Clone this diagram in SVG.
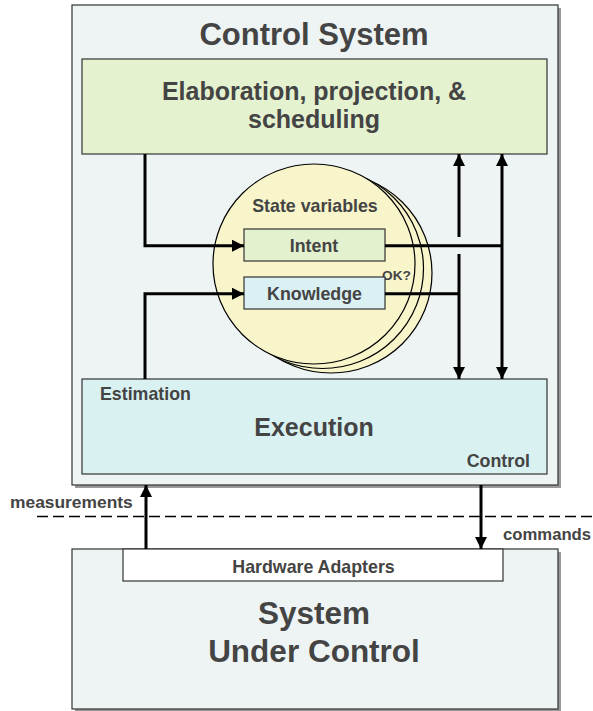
<svg xmlns="http://www.w3.org/2000/svg" width="593" height="711" viewBox="0 0 593 711">
<style>
text{font-family:"Liberation Sans",Arial,sans-serif;font-weight:bold;fill:#444;}
.c{text-anchor:middle;}
.box{stroke:#333;stroke-width:1.2;}
.shadow{fill:#9a9a9a;}
.conn{fill:none;stroke:#000;stroke-width:3;}
.circ{fill:#f8f5cb;stroke:#000;stroke-width:1.2;}
.s{font-size:17.8px;}
</style>
<defs>
<marker id="arr" viewBox="0 0 12 12" refX="12" refY="6" markerWidth="12" markerHeight="12" markerUnits="userSpaceOnUse" orient="auto-start-reverse">
<path d="M0,0 L12,6 L0,12 z" fill="#000"/>
</marker>
</defs>

<g id="control-system">
<rect class="shadow" x="75" y="8" width="486" height="480"/>
<rect class="box" x="72" y="5" width="486" height="480" fill="#eef4f4"/>
<text class="c" x="314" y="45" font-size="31">Control System</text>
</g>

<g id="elaboration">
<rect class="box" x="82" y="59" width="465" height="95" fill="#e4f2d0"/>
<text class="c" x="314" y="100" font-size="25">Elaboration, projection, &amp;</text>
<text class="c" x="314" y="128" font-size="25">scheduling</text>
</g>

<g id="execution">
<rect class="box" x="82" y="379" width="465" height="95" fill="#daf1f2"/>
<text x="100" y="400" class="s">Estimation</text>
<text class="c" x="314" y="436" font-size="25">Execution</text>
<text x="530" y="467" class="s" text-anchor="end">Control</text>
</g>

<g id="state-variables">
<ellipse class="circ" cx="331" cy="273" rx="101" ry="100"/>
<ellipse class="circ" cx="322.5" cy="268.5" rx="101" ry="100"/>
<ellipse class="circ" cx="314" cy="264" rx="101" ry="100"/>
<text class="c s" x="315" y="212">State variables</text>
<text x="382" y="280" font-size="13.7">OK?</text>
</g>

<g id="intent">
<rect class="box" x="244" y="229" width="141" height="32" fill="#e3f1cf"/>
<text class="c s" x="314" y="252">Intent</text>
</g>

<g id="knowledge">
<rect class="box" x="244" y="277" width="141" height="32" fill="#daf0f2"/>
<text class="c s" x="314.5" y="300">Knowledge</text>
</g>

<g id="system-under-control">
<rect class="shadow" x="75" y="552" width="486" height="160"/>
<rect class="box" x="72" y="549" width="486" height="160" fill="#eef4f4"/>
<text class="c" x="314" y="624" font-size="31.5">System</text>
<text class="c" x="314" y="662" font-size="31.5">Under Control</text>
</g>

<g id="hardware-adapters">
<rect class="box" x="123" y="549" width="380" height="32" fill="#fff"/>
<text class="c s" x="313.5" y="573">Hardware Adapters</text>
</g>

<g id="connectors">
<path class="conn" d="M145,154 V245.7 H244" marker-end="url(#arr)"/>
<path class="conn" d="M145,379 V293.7 H244" marker-end="url(#arr)"/>
<path class="conn" d="M385,245.7 H502"/>
<path class="conn" d="M385,293.7 H459"/>
<path class="conn" d="M459,237 V154" marker-end="url(#arr)"/>
<path class="conn" d="M459,254 V379" marker-end="url(#arr)"/>
<path class="conn" d="M502,154 V379" marker-start="url(#arr)" marker-end="url(#arr)"/>
<path class="conn" d="M146,549 V485" marker-end="url(#arr)"/>
<path class="conn" d="M481,485 V549" marker-end="url(#arr)"/>
<path d="M37,516.5 H593" fill="none" stroke="#000" stroke-width="1.3" stroke-dasharray="11 5"/>
<text x="10" y="508" font-size="17.4">measurements</text>
<text x="503" y="540" font-size="16.7">commands</text>
</g>
</svg>
